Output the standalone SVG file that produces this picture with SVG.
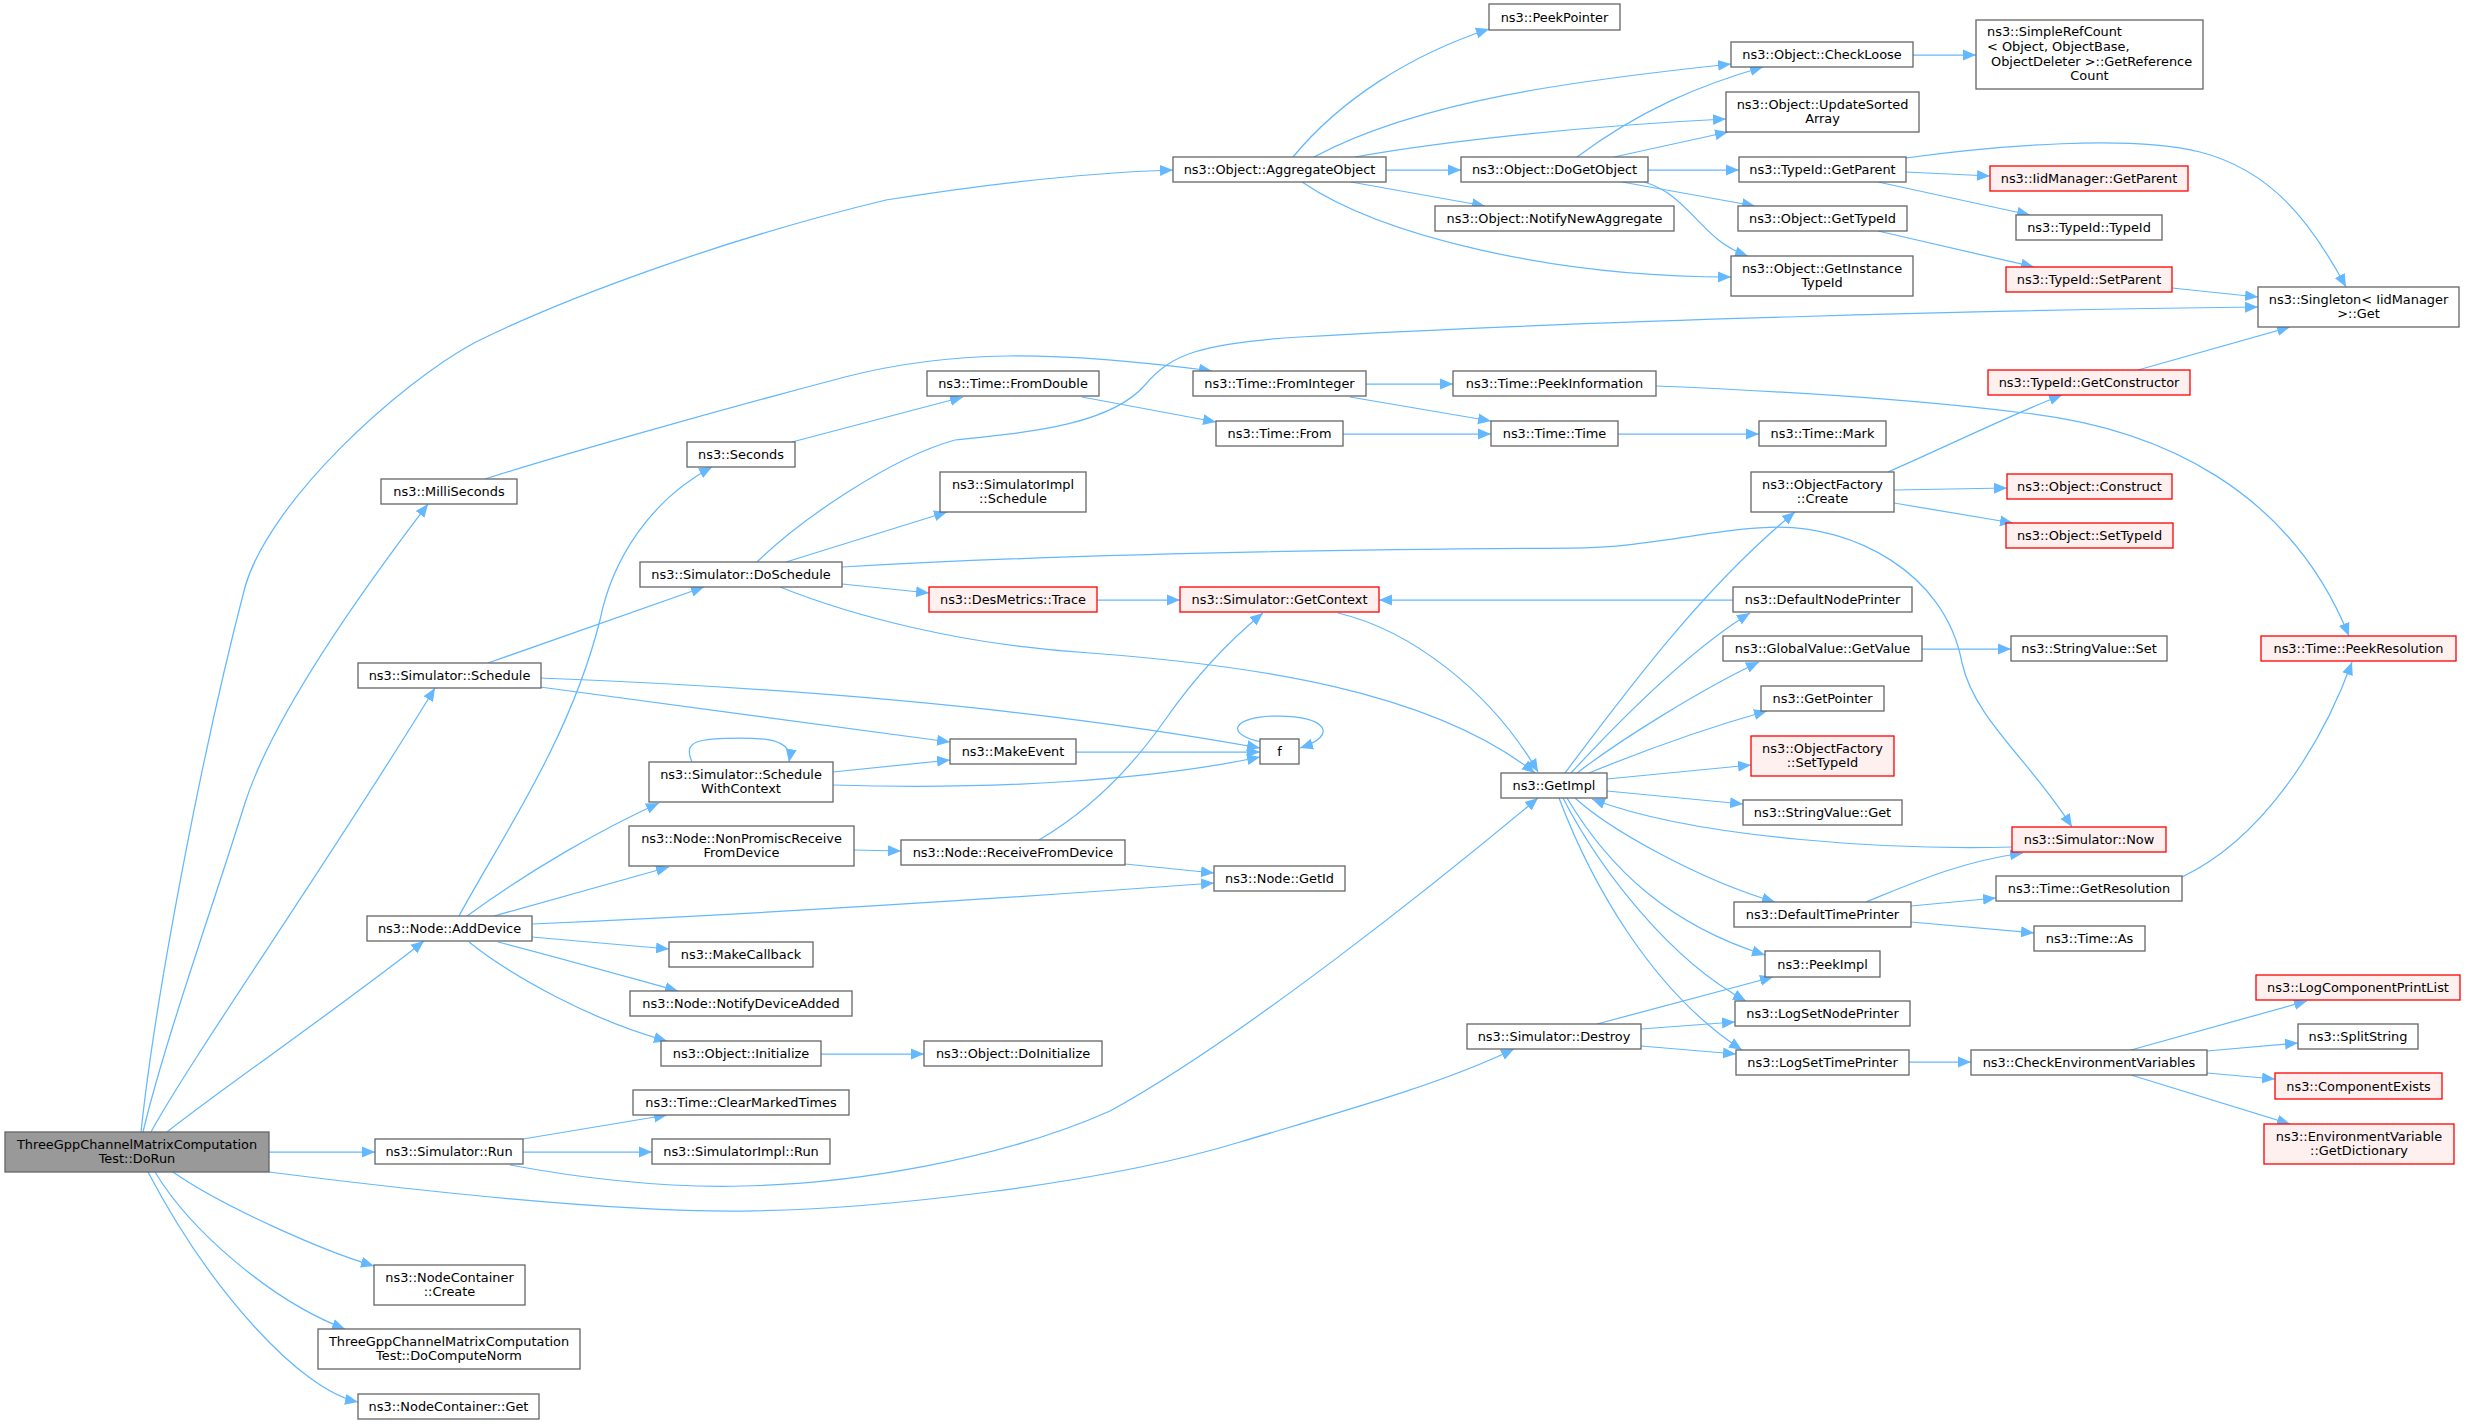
<svg xmlns="http://www.w3.org/2000/svg" width="2467" height="1424" viewBox="0 0 2467 1424">
<defs>
<style>
.node rect{fill:#ffffff;stroke:#666666;stroke-width:1.3}
.red rect{fill:#fff0f0;stroke:#ff0000}
.root rect{fill:#999999}
text{font-family:"DejaVu Sans","Liberation Sans",sans-serif;font-size:12.9px;text-anchor:middle;fill:#000000}
text.l{text-anchor:start}
#edges path{fill:none;stroke:#63b8ff;stroke-width:1.25;marker-end:url(#arr)}
</style>
<marker id="arr" markerUnits="userSpaceOnUse" markerWidth="14" markerHeight="12" viewBox="0 0 14 12" refX="13" refY="6" orient="auto">
<path d="M0,0.5 L13,6 L0,11.5 z" fill="#63b8ff"/>
</marker>
</defs>
<rect x="0" y="0" width="2467" height="1424" fill="#ffffff"/>
<g id="edges">
<path d="M141,1132 C155,1000 200,760 245,587 C270,500 400,383 474,343 C560,300 720,240 886,200 C980,185 1080,173 1173,170"/>
<path d="M143,1132 C165,1040 215,900 245,803 C275,710 370,580 428,504"/>
<path d="M151,1132 C190,1060 330,860 435,688"/>
<path d="M167,1132 C220,1090 350,1000 424,941"/>
<path d="M269,1152 L375,1152"/>
<path d="M269,1172 C450,1195 620,1212 743,1211 C870,1210 1100,1185 1240,1142 C1330,1115 1440,1085 1514,1049"/>
<path d="M173,1172 C220,1205 320,1250 374,1266"/>
<path d="M155,1172 C190,1230 270,1300 345,1329"/>
<path d="M148,1172 C210,1290 300,1390 358,1402"/>
<path d="M485,479 C560,455 720,410 845,377 C950,350 1050,350 1212,371"/>
<path d="M792,442 L963,397"/>
<path d="M1082,397 L1216,422"/>
<path d="M1366,384 L1453,384"/>
<path d="M1350,397 L1491,421"/>
<path d="M1343,434 L1491,434"/>
<path d="M1618,434 L1759,434"/>
<path d="M1656,386 C1780,391 1920,400 2024,413 C2160,428 2290,490 2349,636"/>
<path d="M1293,157 C1340,100 1410,55 1489,29"/>
<path d="M1314,157 C1420,100 1580,80 1731,64"/>
<path d="M1355,157 C1450,140 1600,125 1726,119"/>
<path d="M1386,170 L1461,170"/>
<path d="M1351,182 L1485,206"/>
<path d="M1302,182 C1380,235 1550,277 1731,277"/>
<path d="M1577,157 C1640,110 1700,85 1763,67"/>
<path d="M1614,157 L1728,132"/>
<path d="M1648,170 L1739,170"/>
<path d="M1622,182 L1755,206"/>
<path d="M1644,182 C1690,195 1700,240 1748,256"/>
<path d="M1913,55 L1976,55"/>
<path d="M1906,172 L1990,176"/>
<path d="M1878,182 L2030,215"/>
<path d="M1906,158 C2000,145 2130,135 2200,152 C2270,170 2310,220 2346,287"/>
<path d="M1878,231 L2034,267"/>
<path d="M2172,288 L2258,297"/>
<path d="M757,562 C800,520 890,458 955,440 C1030,432 1110,425 1145,385 C1170,355 1200,343 1300,337 C1600,320 2000,310 2258,307"/>
<path d="M2138,370 L2290,327"/>
<path d="M1888,472 C1950,445 2010,415 2062,395"/>
<path d="M1894,490 L2007,488"/>
<path d="M1894,503 L2013,523"/>
<path d="M786,562 L947,512"/>
<path d="M842,584 L929,593"/>
<path d="M780,587 C850,615 960,645 1090,653 C1250,665 1430,690 1535,773"/>
<path d="M842,567 C1100,552 1400,549 1571,548 C1650,548 1720,527 1779,527 C1850,527 1945,570 1962,663 C1975,720 2030,760 2072,827"/>
<path d="M1097,600 L1180,600"/>
<path d="M1338,613 C1410,630 1490,690 1538,772"/>
<path d="M1733,600 L1379,600"/>
<path d="M488,663 L704,587"/>
<path d="M540,687 L950,742"/>
<path d="M540,678 C800,688 1050,710 1260,748"/>
<path d="M1076,752 L1260,752"/>
<path d="M833,785 C1000,790 1150,780 1260,757"/>
<path d="M833,772 L950,760"/>
<path d="M692,762 C682,740 700,738 741,738 C780,738 792,745 789,762"/>
<path d="M1262,742 C1225,735 1230,716 1279,716 C1325,716 1340,735 1300,748"/>
<path d="M459,916 C500,840 570,740 600,620 C612,560 650,500 712,467"/>
<path d="M467,916 C530,870 600,830 659,803"/>
<path d="M494,916 L669,867"/>
<path d="M532,924 C800,912 1050,895 1214,883"/>
<path d="M532,937 L669,949"/>
<path d="M498,942 C560,958 620,975 678,991"/>
<path d="M469,942 C510,975 590,1020 667,1041"/>
<path d="M821,1054 L924,1054"/>
<path d="M854,850 L901,851"/>
<path d="M1039,840 C1090,810 1130,770 1165,720 C1195,677 1230,640 1263,613"/>
<path d="M1125,864 L1214,873"/>
<path d="M523,1139 L667,1115"/>
<path d="M523,1152 L652,1152"/>
<path d="M510,1165 C580,1178 660,1188 743,1186 C850,1184 1000,1160 1110,1111 C1240,1040 1440,880 1538,798"/>
<path d="M1565,773 C1620,700 1700,590 1795,512"/>
<path d="M1571,773 C1620,720 1690,650 1750,613"/>
<path d="M1577,773 C1620,740 1700,690 1759,662"/>
<path d="M1589,773 C1650,748 1710,727 1767,711"/>
<path d="M1607,779 L1751,765"/>
<path d="M1607,791 L1743,804"/>
<path d="M1575,798 C1610,830 1700,880 1775,902"/>
<path d="M1567,798 C1610,870 1670,925 1765,955"/>
<path d="M1563,798 C1600,870 1670,960 1746,1001"/>
<path d="M1559,798 C1590,880 1650,990 1742,1050"/>
<path d="M2012,847 C1900,850 1700,840 1592,799"/>
<path d="M1866,902 C1920,880 1960,862 2023,853"/>
<path d="M1911,906 L1996,898"/>
<path d="M1911,922 L2034,933"/>
<path d="M2182,877 C2260,840 2320,750 2352,662"/>
<path d="M1922,649 L2011,649"/>
<path d="M1597,1024 L1773,977"/>
<path d="M1641,1029 L1735,1022"/>
<path d="M1641,1046 L1736,1054"/>
<path d="M1909,1062 L1971,1062"/>
<path d="M2131,1050 L2307,1001"/>
<path d="M2207,1051 L2298,1043"/>
<path d="M2207,1073 L2275,1079"/>
<path d="M2131,1075 L2290,1124"/>
</g>
<g id="n_dorun" class="node root"><rect x="5" y="1132" width="264" height="40"/><text x="137" y="1148.5">ThreeGppChannelMatrixComputation</text><text x="137" y="1163">Test::DoRun</text></g>
<g id="n_aggregate" class="node"><rect x="1173" y="157" width="213" height="25"/><text x="1279.5" y="174">ns3::Object::AggregateObject</text></g>
<g id="n_milli" class="node"><rect x="381" y="479" width="136" height="25"/><text x="449" y="496">ns3::MilliSeconds</text></g>
<g id="n_schedule" class="node"><rect x="358" y="663" width="183" height="25"/><text x="449.5" y="680">ns3::Simulator::Schedule</text></g>
<g id="n_adddevice" class="node"><rect x="367" y="916" width="165" height="25"/><text x="449.5" y="933">ns3::Node::AddDevice</text></g>
<g id="n_run" class="node"><rect x="375" y="1139" width="148" height="25"/><text x="449" y="1156">ns3::Simulator::Run</text></g>
<g id="n_ncreate" class="node"><rect x="374" y="1265" width="151" height="40"/><text x="449.5" y="1281.5">ns3::NodeContainer</text><text x="449.5" y="1296">::Create</text></g>
<g id="n_norm" class="node"><rect x="318" y="1329" width="262" height="40"/><text x="449" y="1345.5">ThreeGppChannelMatrixComputation</text><text x="449" y="1360">Test::DoComputeNorm</text></g>
<g id="n_nget" class="node"><rect x="358" y="1394" width="181" height="25"/><text x="448.5" y="1411">ns3::NodeContainer::Get</text></g>
<g id="n_fromdouble" class="node"><rect x="927" y="371" width="172" height="25"/><text x="1013" y="388">ns3::Time::FromDouble</text></g>
<g id="n_seconds" class="node"><rect x="687" y="442" width="108" height="25"/><text x="741" y="459">ns3::Seconds</text></g>
<g id="n_frominteger" class="node"><rect x="1193" y="371" width="173" height="25"/><text x="1279.5" y="388">ns3::Time::FromInteger</text></g>
<g id="n_from" class="node"><rect x="1216" y="421" width="127" height="25"/><text x="1279.5" y="438">ns3::Time::From</text></g>
<g id="n_simimplsched" class="node"><rect x="940" y="472" width="146" height="40"/><text x="1013" y="488.5">ns3::SimulatorImpl</text><text x="1013" y="503">::Schedule</text></g>
<g id="n_doschedule" class="node"><rect x="640" y="562" width="202" height="25"/><text x="741" y="579">ns3::Simulator::DoSchedule</text></g>
<g id="n_trace" class="node red"><rect x="929" y="587" width="168" height="25"/><text x="1013" y="604">ns3::DesMetrics::Trace</text></g>
<g id="n_makeevent" class="node"><rect x="950" y="739" width="126" height="25"/><text x="1013" y="756">ns3::MakeEvent</text></g>
<g id="n_schedctx" class="node"><rect x="649" y="762" width="184" height="40"/><text x="741" y="778.5">ns3::Simulator::Schedule</text><text x="741" y="793">WithContext</text></g>
<g id="n_nonpromisc" class="node"><rect x="629" y="826" width="225" height="40"/><text x="741.5" y="842.5">ns3::Node::NonPromiscReceive</text><text x="741.5" y="857">FromDevice</text></g>
<g id="n_recv" class="node"><rect x="901" y="840" width="224" height="25"/><text x="1013" y="857">ns3::Node::ReceiveFromDevice</text></g>
<g id="n_getid" class="node"><rect x="1214" y="866" width="131" height="25"/><text x="1279.5" y="883">ns3::Node::GetId</text></g>
<g id="n_makecb" class="node"><rect x="669" y="942" width="144" height="25"/><text x="741" y="959">ns3::MakeCallback</text></g>
<g id="n_notifydev" class="node"><rect x="630" y="991" width="222" height="25"/><text x="741" y="1008">ns3::Node::NotifyDeviceAdded</text></g>
<g id="n_init" class="node"><rect x="661" y="1041" width="160" height="25"/><text x="741" y="1058">ns3::Object::Initialize</text></g>
<g id="n_doinit" class="node"><rect x="924" y="1041" width="178" height="25"/><text x="1013" y="1058">ns3::Object::DoInitialize</text></g>
<g id="n_clearmarked" class="node"><rect x="633" y="1090" width="216" height="25"/><text x="741" y="1107">ns3::Time::ClearMarkedTimes</text></g>
<g id="n_simimplrun" class="node"><rect x="652" y="1139" width="178" height="25"/><text x="741" y="1156">ns3::SimulatorImpl::Run</text></g>
<g id="n_getcontext" class="node red"><rect x="1180" y="587" width="199" height="25"/><text x="1279.5" y="604">ns3::Simulator::GetContext</text></g>
<g id="n_f" class="node"><rect x="1260" y="739" width="39" height="25"/><text x="1279.5" y="756">f</text></g>
<g id="n_getimpl" class="node"><rect x="1501" y="773" width="106" height="25"/><text x="1554" y="790">ns3::GetImpl</text></g>
<g id="n_ofcreate" class="node"><rect x="1751" y="472" width="143" height="40"/><text x="1822.5" y="488.5">ns3::ObjectFactory</text><text x="1822.5" y="503">::Create</text></g>
<g id="n_defnodeprinter" class="node"><rect x="1733" y="587" width="179" height="25"/><text x="1822.5" y="604">ns3::DefaultNodePrinter</text></g>
<g id="n_gvgetvalue" class="node"><rect x="1723" y="636" width="199" height="25"/><text x="1822.5" y="653">ns3::GlobalValue::GetValue</text></g>
<g id="n_getpointer" class="node"><rect x="1761" y="686" width="123" height="25"/><text x="1822.5" y="703">ns3::GetPointer</text></g>
<g id="n_ofsettypeid" class="node red"><rect x="1751" y="736" width="143" height="40"/><text x="1822.5" y="752.5">ns3::ObjectFactory</text><text x="1822.5" y="767">::SetTypeId</text></g>
<g id="n_svget" class="node"><rect x="1743" y="800" width="159" height="25"/><text x="1822.5" y="817">ns3::StringValue::Get</text></g>
<g id="n_deftimeprinter" class="node"><rect x="1734" y="902" width="177" height="25"/><text x="1822.5" y="919">ns3::DefaultTimePrinter</text></g>
<g id="n_construct" class="node red"><rect x="2007" y="474" width="165" height="25"/><text x="2089.5" y="491">ns3::Object::Construct</text></g>
<g id="n_objsettypeid" class="node red"><rect x="2006" y="523" width="167" height="25"/><text x="2089.5" y="540">ns3::Object::SetTypeId</text></g>
<g id="n_svset" class="node"><rect x="2011" y="636" width="156" height="25"/><text x="2089" y="653">ns3::StringValue::Set</text></g>
<g id="n_peekres" class="node red"><rect x="2261" y="636" width="195" height="25"/><text x="2358.5" y="653">ns3::Time::PeekResolution</text></g>
<g id="n_now" class="node red"><rect x="2012" y="827" width="154" height="25"/><text x="2089" y="844">ns3::Simulator::Now</text></g>
<g id="n_getres" class="node"><rect x="1996" y="876" width="186" height="25"/><text x="2089" y="893">ns3::Time::GetResolution</text></g>
<g id="n_as" class="node"><rect x="2034" y="926" width="111" height="25"/><text x="2089.5" y="943">ns3::Time::As</text></g>
<g id="n_peekpointer" class="node"><rect x="1489" y="4" width="131" height="26"/><text x="1554.5" y="21.5">ns3::PeekPointer</text></g>
<g id="n_checkloose" class="node"><rect x="1731" y="42" width="182" height="25"/><text x="1822" y="59">ns3::Object::CheckLoose</text></g>
<g id="n_updatesorted" class="node"><rect x="1726" y="92" width="193" height="40"/><text x="1822.5" y="108.5">ns3::Object::UpdateSorted</text><text x="1822.5" y="123">Array</text></g>
<g id="n_dogetobject" class="node"><rect x="1461" y="157" width="187" height="25"/><text x="1554.5" y="174">ns3::Object::DoGetObject</text></g>
<g id="n_notifynewagg" class="node"><rect x="1435" y="206" width="239" height="25"/><text x="1554.5" y="223">ns3::Object::NotifyNewAggregate</text></g>
<g id="n_tgetparent" class="node"><rect x="1739" y="157" width="167" height="25"/><text x="1822.5" y="174">ns3::TypeId::GetParent</text></g>
<g id="n_ogettypeid" class="node"><rect x="1738" y="206" width="169" height="25"/><text x="1822.5" y="223">ns3::Object::GetTypeId</text></g>
<g id="n_ginstance" class="node"><rect x="1731" y="256" width="182" height="40"/><text x="1822" y="272.5">ns3::Object::GetInstance</text><text x="1822" y="287">TypeId</text></g>
<g id="n_peekinfo" class="node"><rect x="1453" y="371" width="203" height="25"/><text x="1554.5" y="388">ns3::Time::PeekInformation</text></g>
<g id="n_time" class="node"><rect x="1491" y="421" width="127" height="25"/><text x="1554.5" y="438">ns3::Time::Time</text></g>
<g id="n_mark" class="node"><rect x="1759" y="421" width="127" height="25"/><text x="1822.5" y="438">ns3::Time::Mark</text></g>
<g id="n_simpleref" class="node"><rect x="1976" y="20" width="227" height="69"/><text class="l" x="1987" y="36">ns3::SimpleRefCount</text><text class="l" x="1987" y="51">&lt; Object, ObjectBase,</text><text class="l" x="1991" y="65.5">ObjectDeleter &gt;::GetReference</text><text x="2089.5" y="80">Count</text></g>
<g id="n_iidgetparent" class="node red"><rect x="1990" y="166" width="198" height="25"/><text x="2089" y="183">ns3::IidManager::GetParent</text></g>
<g id="n_typeid" class="node"><rect x="2016" y="215" width="146" height="25"/><text x="2089" y="232">ns3::TypeId::TypeId</text></g>
<g id="n_setparent" class="node red"><rect x="2006" y="267" width="166" height="25"/><text x="2089" y="284">ns3::TypeId::SetParent</text></g>
<g id="n_singleton" class="node"><rect x="2258" y="287" width="201" height="40"/><text x="2358.5" y="303.5">ns3::Singleton&lt; IidManager</text><text x="2358.5" y="318">&gt;::Get</text></g>
<g id="n_getconstructor" class="node red"><rect x="1988" y="370" width="202" height="25"/><text x="2089" y="387">ns3::TypeId::GetConstructor</text></g>
<g id="n_destroy" class="node"><rect x="1467" y="1024" width="174" height="25"/><text x="1554" y="1041">ns3::Simulator::Destroy</text></g>
<g id="n_peekimpl" class="node"><rect x="1765" y="951" width="115" height="26"/><text x="1822.5" y="968.5">ns3::PeekImpl</text></g>
<g id="n_logsetnode" class="node"><rect x="1735" y="1001" width="175" height="25"/><text x="1822.5" y="1018">ns3::LogSetNodePrinter</text></g>
<g id="n_logsettime" class="node"><rect x="1736" y="1050" width="173" height="25"/><text x="1822.5" y="1067">ns3::LogSetTimePrinter</text></g>
<g id="n_checkenv" class="node"><rect x="1971" y="1050" width="236" height="25"/><text x="2089" y="1067">ns3::CheckEnvironmentVariables</text></g>
<g id="n_logcomp" class="node red"><rect x="2256" y="975" width="204" height="25"/><text x="2358" y="992">ns3::LogComponentPrintList</text></g>
<g id="n_split" class="node"><rect x="2298" y="1024" width="120" height="25"/><text x="2358" y="1041">ns3::SplitString</text></g>
<g id="n_compexists" class="node red"><rect x="2275" y="1073" width="167" height="26"/><text x="2358.5" y="1090.5">ns3::ComponentExists</text></g>
<g id="n_getdict" class="node red"><rect x="2264" y="1124" width="190" height="40"/><text x="2359" y="1140.5">ns3::EnvironmentVariable</text><text x="2359" y="1155">::GetDictionary</text></g>
</svg>
